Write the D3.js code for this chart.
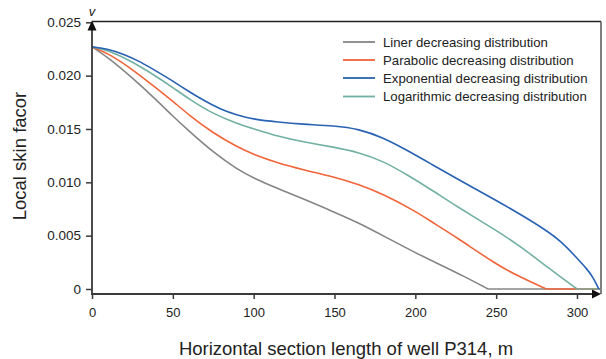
<!DOCTYPE html>
<html><head><meta charset="utf-8">
<script src="https://cdn.jsdelivr.net/npm/d3@7"></script>
<style>body{margin:0;background:#fff}svg{display:block}text{font-family:"Liberation Sans",Arial,sans-serif;fill:#222}</style>
</head><body><svg id="c" width="606" height="359"></svg>
<script>
const xTicks = [0,50,100,150,200,250,300];
const yTicks = [0,0.005,0.010,0.015,0.020,0.025];
const yTickLabels = ["0","0.005","0.010","0.015","0.020","0.025"];
const seriesNames = ["Liner decreasing distribution","Parabolic decreasing distribution","Exponential decreasing distribution","Logarithmic decreasing distribution"];
const seriesColors = ["#858585","#f0643a","#2862b2","#72b0a2"];
const tailEnd = 314;
const linerX = [0,10,25,40,50,60,75,90,100,115,130,150,165,180,200,215,230,245];
const linerY = [0.0227,0.0217,0.0198,0.0177,0.0162,0.0148,0.0128,0.0112,0.0104,0.0094,0.0085,0.0072,0.0062,0.0050,0.0034,0.0023,0.0012,0];
const parabolicX = [0,10,25,40,50,60,75,90,100,115,130,150,165,180,200,212,225,250,265,281];
const parabolicY = [0.0227,0.0221,0.0206,0.0188,0.0176,0.0163,0.0146,0.0133,0.0126,0.0118,0.0112,0.0105,0.0098,0.0089,0.0073,0.0061,0.0049,0.0023,0.0011,0];
const exponentialX = [0,10,20,30,40,50,60,70,80,90,100,115,130,150,165,180,195,210,225,250,265,280,290,300,306,310,313.5];
const exponentialY = [0.0227,0.0225,0.0220,0.0213,0.0204,0.0195,0.0185,0.0176,0.0168,0.0163,0.0159,0.01565,0.01545,0.0153,0.0150,0.0142,0.0130,0.0117,0.0104,0.0083,0.0070,0.0056,0.0045,0.0029,0.0019,0.0011,0];
const logarithmicX = [0,10,25,40,50,60,75,90,100,115,130,150,165,180,195,210,225,250,265,283,300];
const logarithmicY = [0.0227,0.0224,0.0213,0.0199,0.0189,0.0178,0.0164,0.0155,0.0150,0.0143,0.0138,0.0133,0.0128,0.0120,0.0107,0.0093,0.0078,0.0055,0.0040,0.0019,0];
const drawOrder = [[linerX,linerY,0],[parabolicX,parabolicY,1],[logarithmicX,logarithmicY,3],[exponentialX,exponentialY,2]];

const svg = d3.select("#c");
const x = d3.scaleLinear().domain([0,300]).range([92,577]);
const y = d3.scaleLinear().domain([0,0.025]).range([289,22.3]);
const axisColor = "#3a3a3a";
const yAxisX = 92, xAxisY = 294;

// frame top and right
svg.append("line").attr("x1",yAxisX).attr("x2",601).attr("y1",21.5).attr("y2",21.5).attr("stroke","#222").attr("stroke-width",1.5);
svg.append("line").attr("x1",601).attr("x2",601).attr("y1",21.5).attr("y2",xAxisY).attr("stroke","#555").attr("stroke-width",1.5);

// flat tails at zero
drawOrder.forEach(([xs,ys,i])=>{
  const last = xs[xs.length-1];
  if (last < tailEnd) {
    svg.append("line").attr("x1",x(last)).attr("x2",x(tailEnd)).attr("y1",y(0)).attr("y2",y(0))
      .attr("stroke",seriesColors[i]).attr("stroke-opacity",0.75).attr("stroke-width",1.8);
  }
});
// curves
const line = d3.line().x(d=>x(d[0])).y(d=>y(d[1])).curve(d3.curveBasis);
drawOrder.forEach(([xs,ys,i])=>{
  svg.append("path").datum(xs.map((v,k)=>[v,ys[k]]))
    .attr("d",line).attr("fill","none").attr("stroke",seriesColors[i]).attr("stroke-width",1.6);
});

// y axis
const yAxis = d3.axisLeft(y).tickValues(yTicks).tickFormat((d,i)=>yTickLabels[i]).tickSize(6).tickPadding(5);
const gy = svg.append("g").attr("transform",`translate(${yAxisX},0)`).call(yAxis);
gy.select(".domain").remove();
gy.selectAll(".tick line").attr("stroke",axisColor).attr("stroke-width",1.5);
gy.selectAll(".tick text").attr("font-size",13.5).attr("fill","#222").style("font-family",'"Liberation Sans",Arial,sans-serif');
svg.append("line").attr("x1",yAxisX).attr("x2",yAxisX).attr("y1",xAxisY).attr("y2",28).attr("stroke",axisColor).attr("stroke-width",1.8);
svg.append("path").attr("d",`M${yAxisX},20.5L${yAxisX-4.5},30.5L${yAxisX+4.5},30.5Z`).attr("fill","#111");
svg.append("text").attr("x",yAxisX).attr("y",16).attr("text-anchor","middle").attr("font-size",13).attr("font-style","italic").text("v");

// x axis
const xAxis = d3.axisBottom(x).tickValues(xTicks).tickSize(5).tickPadding(9);
const gx = svg.append("g").attr("transform",`translate(0,${xAxisY})`).call(xAxis);
gx.select(".domain").remove();
gx.selectAll(".tick line").attr("stroke",axisColor).attr("stroke-width",1.5);
gx.selectAll(".tick text").attr("font-size",13).attr("fill","#222").style("font-family",'"Liberation Sans",Arial,sans-serif');
svg.append("line").attr("x1",yAxisX-1).attr("x2",594).attr("y1",xAxisY).attr("y2",xAxisY).attr("stroke",axisColor).attr("stroke-width",1.8);
svg.append("path").attr("d",`M601,${xAxisY}L592,${xAxisY-4.5}L592,${xAxisY+4.5}Z`).attr("fill","#111");

// titles
svg.append("text").attr("x",346).attr("y",355).attr("text-anchor","middle").attr("font-size",18.5).text("Horizontal section length of well P314, m");
svg.append("text").attr("transform","translate(26,156) rotate(-90)").attr("text-anchor","middle").attr("font-size",18.5).text("Local skin facor");

// legend
const legY = [42,60,78,96.5];
seriesNames.forEach((n,i)=>{
  svg.append("line").attr("x1",343).attr("x2",375).attr("y1",legY[i]).attr("y2",legY[i]).attr("stroke",seriesColors[i]).attr("stroke-width",1.8);
  svg.append("text").attr("x",383).attr("y",legY[i]).attr("dy","0.35em").attr("font-size",13.2).text(n);
});
</script></body></html>
